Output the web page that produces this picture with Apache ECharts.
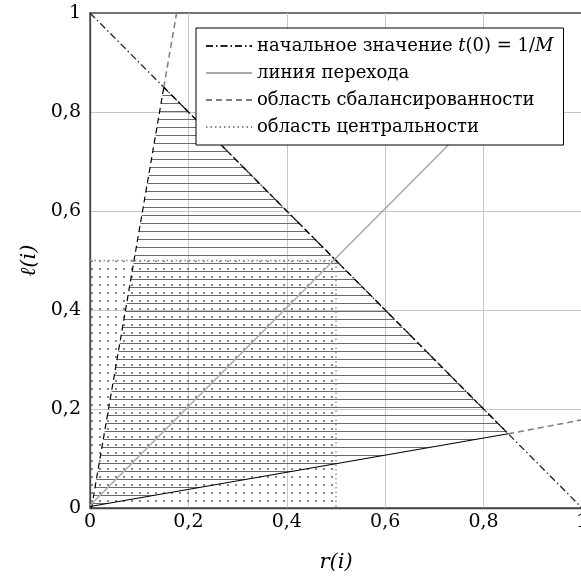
<!DOCTYPE html>
<html>
<head>
<meta charset="utf-8">
<script src="https://cdn.jsdelivr.net/npm/echarts@6/dist/echarts.min.js"></script>
<style>
html, body { margin: 0; padding: 0; background: #fff; }
#chart { width: 581px; height: 578px; }
</style>
</head>
<body>
<div id="chart"></div>
<script>
// подписи делений
var xTicks = [0, 0.2, 0.4, 0.6, 0.8, 1];
var yTicks = [0, 0.2, 0.4, 0.6, 0.8, 1];
// начальное значение t(0) = 1/M
var startLine = [[0, 1], [1, 0]];
// линия перехода
var transLine = [[0, 0.005], [0.955, 0.96]];
// границы области сбалансированности
var upperInside = [[0.003, 0], [0.15, 0.85]];
var upperOutside = [[0.15, 0.85], [0.176, 1]];
var lowerInside = [[0, 0.003], [0.85, 0.15]];
var lowerOutside = [[0.85, 0.15], [1, 0.178]];
var diagInside = [[0.15, 0.85], [0.85, 0.15]];
// заштрихованная область
var hatchArea = [[0.003, 0], [0.15, 0.85], [0.85, 0.15], [0, 0.003]];
// область центральности
var centralBox = [[0, 0.5], [0.5, 0.5], [0.5, 0]];

var serif = '"DejaVu Serif", serif';

function makePattern(draw) {
    var c = document.createElement('canvas');
    c.width = 8;
    c.height = 8;
    draw(c.getContext('2d'));
    return c;
}
var hatchCanvas = makePattern(function (ctx) {
    ctx.fillStyle = '#6a6a6a';
    ctx.fillRect(0, 7, 8, 1);
});
var dotCanvas = makePattern(function (ctx) {
    ctx.fillStyle = '#858585';
    ctx.fillRect(3, 4, 2, 2);
});

var chart = echarts.init(document.getElementById('chart'), null, { renderer: 'canvas' });

function fmt(v) {
    return String(v).replace('.', ',');
}

var tickFont = {
    formatter: fmt,
    fontFamily: serif,
    fontSize: 19,
    color: '#000'
};

var option = {
    animation: false,
    grid: {
        left: 90,
        top: 13,
        width: 492,
        height: 495,
        outerBoundsMode: 'none',
        containLabel: false,
        show: true,
        borderColor: '#444',
        borderWidth: 1.3,
        backgroundColor: 'transparent'
    },
    legend: {
        data: ['начальное значение t(0) = 1/M', 'линия перехода', 'область сбалансированности', 'область центральности'],
        orient: 'vertical',
        left: 196,
        top: 28,
        z: 20,
        padding: [9, 10, 9, 9],
        itemWidth: 46,
        itemHeight: 14,
        itemGap: 9,
        backgroundColor: '#fff',
        borderColor: '#000',
        borderWidth: 1,
        borderRadius: 0,
        itemStyle: { color: 'rgba(0,0,0,0)', borderColor: 'rgba(0,0,0,0)', borderWidth: 0 },
        textStyle: {
            fontFamily: serif,
            fontSize: 18,
            color: '#000',
            rich: {
                i: { fontFamily: serif, fontSize: 18, fontStyle: 'italic', color: '#000' }
            }
        },
        formatter: function (name) {
            if (name.indexOf('t(0)') >= 0) {
                return 'начальное значение {i|t}(0) = 1/{i|M}';
            }
            return name;
        }
    },
    xAxis: {
        type: 'value',
        min: 0,
        max: 1,
        interval: 0.2,
        name: 'r(i)',
        nameLocation: 'middle',
        nameGap: 44,
        nameTextStyle: {
            fontFamily: serif,
            fontSize: 21,
            fontStyle: 'italic',
            color: '#000'
        },
        axisLine: { lineStyle: { color: '#444', width: 1.3 } },
        axisTick: { show: false },
        splitLine: { show: true, showMinLine: false, showMaxLine: false, lineStyle: { color: '#c6c6c6', width: 1 } },
        axisLabel: Object.assign({ margin: 5 }, tickFont)
    },
    yAxis: {
        type: 'value',
        min: 0,
        max: 1,
        interval: 0.2,
        name: 'ℓ(i)',
        nameLocation: 'middle',
        nameGap: 45,
        nameTextStyle: {
            fontFamily: serif,
            fontSize: 21,
            fontStyle: 'italic',
            color: '#000'
        },
        axisLine: { lineStyle: { color: '#444', width: 1.3 } },
        axisTick: { show: false },
        splitLine: { show: true, showMinLine: false, showMaxLine: false, lineStyle: { color: '#c6c6c6', width: 1 } },
        axisLabel: Object.assign({ margin: 9 }, tickFont)
    },
    series: [
        {
            name: 'штриховка',
            type: 'custom',
            data: hatchArea,
            silent: true,
            z: 1,
            renderItem: function (params, api) {
                if (params.dataIndex !== 0) return;
                var pts = hatchArea.map(function (p) { return api.coord(p); });
                return {
                    type: 'polygon',
                    shape: { points: pts },
                    style: { fill: { image: hatchCanvas, repeat: 'repeat' } }
                };
            }
        },
        {
            name: 'начальное значение t(0) = 1/M',
            type: 'line',
            data: startLine,
            symbol: 'none',
            z: 3,
            lineStyle: { color: '#222', width: 1.3, type: [7, 3, 1.5, 3] }
        },
        {
            name: 'линия перехода',
            type: 'line',
            data: transLine,
            symbol: 'none',
            z: 5,
            lineStyle: { color: '#ababab', width: 1.6, type: 'solid' }
        },
        {
            name: 'область сбалансированности',
            type: 'line',
            data: upperOutside,
            symbol: 'none',
            z: 3,
            lineStyle: { color: '#7c7c7c', width: 1.5, type: [6, 4] }
        },
        {
            name: 'область сбалансированности',
            type: 'line',
            data: lowerOutside,
            symbol: 'none',
            z: 3,
            lineStyle: { color: '#7c7c7c', width: 1.5, type: [6, 4] }
        },
        {
            name: 'область центральности',
            type: 'line',
            data: centralBox,
            symbol: 'none',
            z: 2,
            lineStyle: { color: '#888', width: 1.3, type: [1.5, 3] },
            areaStyle: { color: { image: dotCanvas, repeat: 'repeat' }, opacity: 1 }
        },
        {
            name: 'граница слева',
            type: 'line',
            data: upperInside,
            symbol: 'none',
            z: 4,
            lineStyle: { color: '#000', width: 1.2, type: [6, 4] }
        },
        {
            name: 'граница снизу',
            type: 'line',
            data: lowerInside,
            symbol: 'none',
            z: 4,
            lineStyle: { color: '#000', width: 1.1, type: 'solid' }
        },
        {
            name: 'граница справа',
            type: 'line',
            data: diagInside,
            symbol: 'none',
            z: 4,
            lineStyle: { color: '#000', width: 1.2, type: [6, 4] }
        }
    ]
};

chart.setOption(option);
</script>
</body>
</html>
